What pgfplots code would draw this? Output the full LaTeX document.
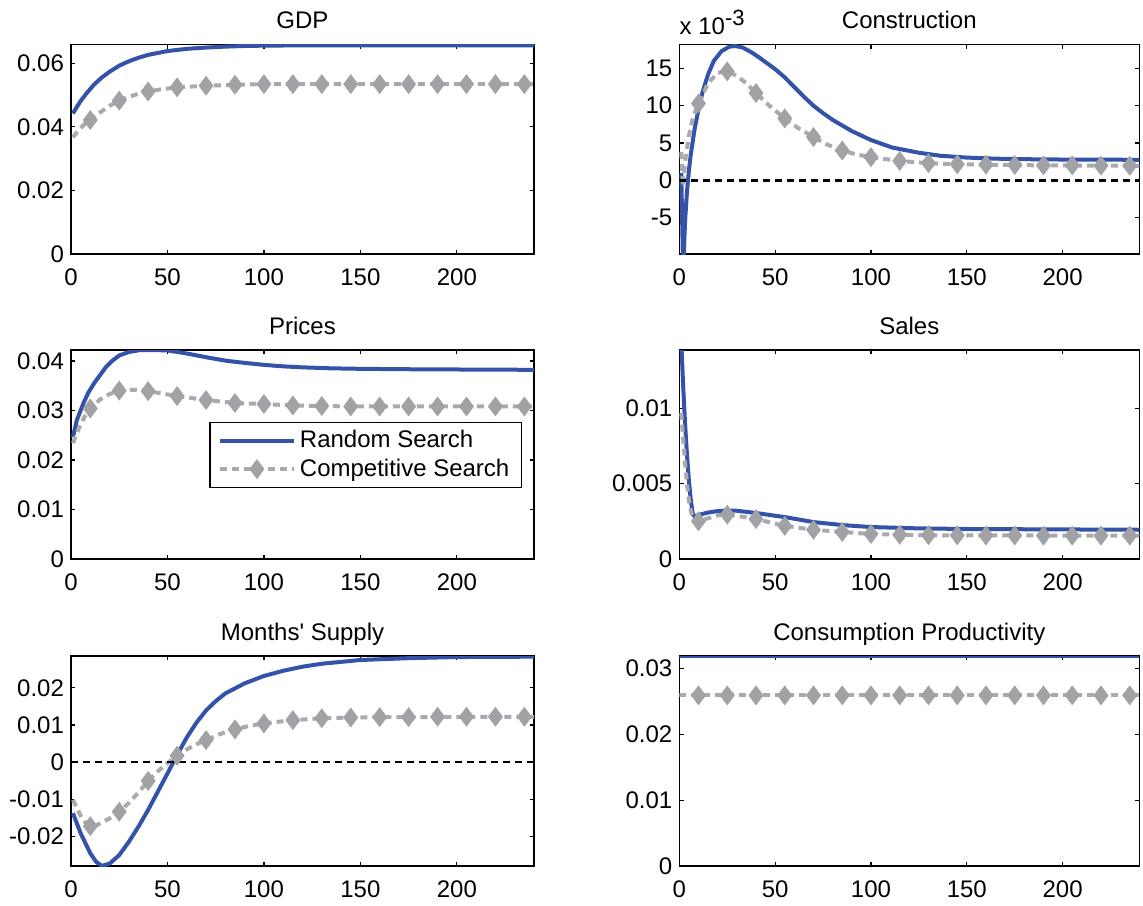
\documentclass[border=0pt]{standalone}
\usepackage{pgfplots}
\pgfplotsset{compat=1.18}
\usepackage{fontspec}
\setmainfont{Liberation Sans}
\newcommand{\fs}{\fontsize{12}{14}\selectfont}
\definecolor{myblue}{RGB}{52,82,168}
\definecolor{mygrey}{RGB}{168,170,173}
\definecolor{mkgrey}{RGB}{160,162,166}
\pgfplotsset{
  every axis title/.style={font=\fs, at={(0.5,1)}, anchor=base, yshift=8pt, inner sep=0pt},
  panel/.style={
    scale only axis, anchor=north west, clip=true,
    xmin=0, xmax=240,
    xtick={0,50,100,150,200}, xticklabels={0,50,100,150,200},
    tick align=inside, major tick length=2.2pt,
    axis line style={line width=0.7pt, black},
    every tick/.style={black, line width=0.6pt},
    tick label style={font=\fs},
    xticklabel style={yshift=-4pt},
    scaled y ticks=false, minor tick num=0,
  },
  blueline/.style={myblue, line width=2pt, solid, no markers},
  greyline/.style={mygrey, line width=2pt, dash pattern=on 3.5pt off 2.5pt, no markers},
  greymarks/.style={only marks, mark=diamond*, mark size=4.8pt, mark options={solid, fill=mkgrey, draw=mkgrey, line width=0.2pt}},
  zeroline/.style={black, line width=1.4pt, dash pattern=on 3.5pt off 2.5pt, no markers},
}
\begin{document}
\begin{tikzpicture}
\useasboundingbox (0pt,0pt) rectangle (571.5pt,-452.5pt);

% GDP
\begin{axis}[panel, at={(35.5pt,-22.35pt)}, width=231.5pt, height=104.65pt,
  title={GDP}, ymin=0, ymax=0.0658,
  ytick={0,0.02,0.04,0.06}, yticklabels={0,0.02,0.04,0.06}]
\addplot[blueline] coordinates {(1,0.0442)(3,0.0462)(5,0.0481)(8,0.0505)(12,0.0533)(16,0.0555)(20,0.0573)(25,0.0592)(30,0.0606)(35,0.0617)(40,0.0626)(50,0.0638)(60,0.0645)(70,0.0649)(80,0.0652)(90,0.0654)(100,0.0655)(120,0.0656)(150,0.0656)(240,0.0656)};
\addplot[greyline] coordinates {(1,0.0367)(4,0.0390)(7,0.0408)(10,0.0421)(15,0.0445)(20,0.0466)(25,0.0482)(30,0.0494)(35,0.0504)(40,0.0511)(47,0.0518)(55,0.0524)(70,0.0529)(85,0.0532)(100,0.0534)(240,0.0534)};
\addplot[greymarks] coordinates {(10,0.0421)(25,0.0482)(40,0.0511)(55,0.0524)(70,0.0529)(85,0.0532)(100,0.0534)(115,0.0534)(130,0.0534)(145,0.0534)(160,0.0534)(175,0.0534)(190,0.0534)(205,0.0534)(220,0.0534)(235,0.0534)};
\addplot[zeroline] coordinates {(0,0)(240,0)};
\end{axis}

% Construction
\begin{axis}[panel, name=constr, at={(339.65pt,-22.25pt)}, width=230pt, height=104.75pt,
  title={Construction}, ymin=-9.87, ymax=18.2,
  ytick={-5,0,5,10,15}, yticklabels={-5,0,5,10,15}]
\addplot[blueline] coordinates {(1,1.0)(2,-12)(3,-5.5)(4,-1.5)(5,1.3)(6,3.5)(8,6.9)(10,9.5)(12,11.7)(15,14.2)(18,16.0)(22,17.3)(26,17.9)(29,18.0)(33,17.8)(38,17.1)(42,16.4)(50,14.9)(55,13.8)(60,12.5)(65,11.2)(70,10.0)(75,9.0)(80,8.1)(90,6.6)(100,5.4)(111,4.4)(125,3.7)(136,3.3)(150,3.05)(165,2.9)(190,2.8)(240,2.75)};
\addplot[greyline] coordinates {(1,3.8)(2,-0.8)(3,2.5)(5,6.0)(7,8.3)(10,10.3)(15,13.0)(20,14.4)(25,14.6)(30,14.0)(35,13.0)(40,11.7)(47,10.0)(55,8.3)(62,7.0)(70,5.8)(77,4.8)(85,4.0)(92,3.5)(100,3.1)(115,2.6)(130,2.3)(145,2.15)(160,2.1)(175,2.05)(190,2.0)(240,1.95)};
\addplot[greymarks] coordinates {(10,10.3)(25,14.6)(40,11.7)(55,8.3)(70,5.8)(85,4.0)(100,3.1)(115,2.6)(130,2.3)(145,2.15)(160,2.1)(175,2.05)(190,2.0)(205,2.0)(220,1.97)(235,1.95)};
\addplot[zeroline] coordinates {(0,0)(240,0)};
\end{axis}
\node[anchor=base west, inner sep=0pt, font=\fs] at ([yshift=5pt]constr.north west) {x 10\raisebox{4.5pt}{\fontsize{11}{11}\selectfont -3}};

% Prices
\begin{axis}[panel, at={(35.5pt,-175pt)}, width=231.5pt, height=104.5pt,
  title={Prices}, ymin=0, ymax=0.0422,
  ytick={0,0.01,0.02,0.03,0.04}, yticklabels={0,0.01,0.02,0.03,0.04},
  legend style={at={(0.974,0.656)}, anchor=north east, draw=black, line width=0.6pt, fill=white, font=\fs, inner xsep=4pt, inner ysep=2pt, row sep=0pt},
  legend cell align=left,
  legend image code/.code={\draw[mark repeat=2,mark phase=2,#1] plot coordinates {(0pt,0pt) (18.5pt,0pt) (37pt,0pt)};}]
\addlegendimage{blueline}
\addlegendentry{Random Search}
\addlegendimage{mygrey, line width=2pt, dash pattern=on 3.5pt off 2.5pt, mark=diamond*, mark size=4.8pt, mark options={solid, fill=mkgrey, draw=mkgrey, line width=0.2pt}}
\addlegendentry{Competitive Search}
\addplot[blueline, forget plot] coordinates {(1,0.0246)(3,0.0280)(6.5,0.0315)(9,0.0336)(12,0.0355)(15,0.0371)(18,0.0387)(21,0.0399)(25,0.0411)(30,0.0418)(36,0.0422)(43,0.0422)(50,0.0421)(57,0.0417)(64,0.0412)(72,0.0406)(81,0.0400)(90,0.0396)(100,0.0392)(110,0.0389)(120,0.0387)(135,0.0385)(150,0.0384)(180,0.0383)(240,0.0382)};
\addplot[greyline, forget plot] coordinates {(1,0.0234)(4,0.0263)(7,0.0287)(10,0.0304)(15,0.0322)(20,0.0333)(25,0.0340)(30,0.0342)(35,0.0341)(40,0.0339)(55,0.0329)(70,0.0321)(85,0.0315)(100,0.0313)(115,0.0310)(130,0.0309)(145,0.0308)(240,0.0308)};
\addplot[greymarks, forget plot] coordinates {(10,0.0304)(25,0.0340)(40,0.0339)(55,0.0329)(70,0.0321)(85,0.0315)(100,0.0313)(115,0.0310)(130,0.0309)(145,0.0308)(160,0.0308)(175,0.0308)(190,0.0308)(205,0.0308)(220,0.0308)(235,0.0308)};
\addplot[zeroline, forget plot] coordinates {(0,0)(240,0)};
\end{axis}

% Sales
\begin{axis}[panel, at={(339.65pt,-175pt)}, width=230pt, height=104.5pt,
  title={Sales}, ymin=0, ymax=0.01386,
  ytick={0,0.005,0.01}, yticklabels={0,0.005,0.01}]
\addplot[blueline] coordinates {(1,0.0145)(2,0.0115)(3,0.0090)(4,0.0069)(5,0.0052)(6,0.0039)(7,0.0030)(8,0.00282)(10,0.00292)(15,0.00308)(20,0.00318)(25,0.00322)(30,0.00320)(40,0.00305)(55,0.00278)(70,0.00245)(85,0.00225)(100,0.00212)(125,0.00203)(150,0.00199)(240,0.00194)};
\addplot[greyline] coordinates {(1,0.0097)(2,0.0080)(3,0.0064)(4,0.0050)(5,0.0039)(6,0.0032)(7,0.0027)(8,0.0025)(10,0.0025)(15,0.0027)(20,0.0029)(25,0.00294)(30,0.00287)(40,0.00265)(55,0.0022)(70,0.00194)(85,0.00179)(100,0.00166)(115,0.00161)(130,0.00157)(240,0.00155)};
\addplot[greymarks] coordinates {(10,0.0025)(25,0.00294)(40,0.00265)(55,0.0022)(70,0.00194)(85,0.00179)(100,0.00166)(115,0.00161)(130,0.00158)(145,0.00157)(160,0.00156)(175,0.00156)(190,0.00155)(205,0.00155)(220,0.00155)(235,0.00155)};
\addplot[zeroline] coordinates {(0,0)(240,0)};
\end{axis}

% Months' Supply
\begin{axis}[panel, at={(35.5pt,-328pt)}, width=231.5pt, height=105pt,
  title={Months\textquotesingle{} Supply}, ymin=-0.02804, ymax=0.02858,
  ytick={-0.02,-0.01,0,0.01,0.02}, yticklabels={-0.02,-0.01,0,0.01,0.02}]
\addplot[blueline] coordinates {(1,-0.0138)(5,-0.0192)(10,-0.0246)(13,-0.0269)(16,-0.0280)(20,-0.0274)(25,-0.0251)(30,-0.0215)(35,-0.0174)(40,-0.0129)(45,-0.0080)(50,-0.0031)(55,0.0019)(60,0.0066)(65,0.0106)(70,0.0139)(75,0.0164)(80,0.0185)(90,0.0212)(100,0.0232)(110,0.0246)(120,0.0257)(130,0.0265)(150,0.0275)(175,0.0280)(200,0.0283)(240,0.0284)};
\addplot[greyline] coordinates {(1,-0.0102)(5,-0.0145)(8,-0.0167)(10,-0.0173)(12,-0.0173)(15,-0.0166)(20,-0.0152)(25,-0.0134)(30,-0.0110)(35,-0.0082)(40,-0.0051)(45,-0.0025)(50,-0.0003)(55,0.0017)(60,0.0034)(65,0.0048)(70,0.0059)(77,0.0075)(85,0.0088)(92,0.0097)(100,0.0104)(115,0.0113)(130,0.0118)(145,0.0120)(160,0.0121)(240,0.0122)};
\addplot[greymarks] coordinates {(10,-0.0173)(25,-0.0134)(40,-0.0051)(55,0.0017)(70,0.0059)(85,0.0088)(100,0.0104)(115,0.0113)(130,0.0118)(145,0.0120)(160,0.0121)(175,0.0121)(190,0.0122)(205,0.0122)(220,0.0122)(235,0.0122)};
\addplot[zeroline] coordinates {(0,0)(240,0)};
\end{axis}

% Consumption Productivity
\begin{axis}[panel, at={(339.65pt,-328pt)}, width=230pt, height=105pt,
  title={Consumption Productivity}, ymin=0, ymax=0.03187,
  ytick={0,0.01,0.02,0.03}, yticklabels={0,0.01,0.02,0.03}]
\addplot[blueline] coordinates {(0,0.0318)(240,0.0318)};
\addplot[greyline] coordinates {(0,0.0259)(240,0.0259)};
\addplot[greymarks] coordinates {(10,0.0259)(25,0.0259)(40,0.0259)(55,0.0259)(70,0.0259)(85,0.0259)(100,0.0259)(115,0.0259)(130,0.0259)(145,0.0259)(160,0.0259)(175,0.0259)(190,0.0259)(205,0.0259)(220,0.0259)(235,0.0259)};
\addplot[zeroline] coordinates {(0,0)(240,0)};
\end{axis}
\end{tikzpicture}
\end{document}
